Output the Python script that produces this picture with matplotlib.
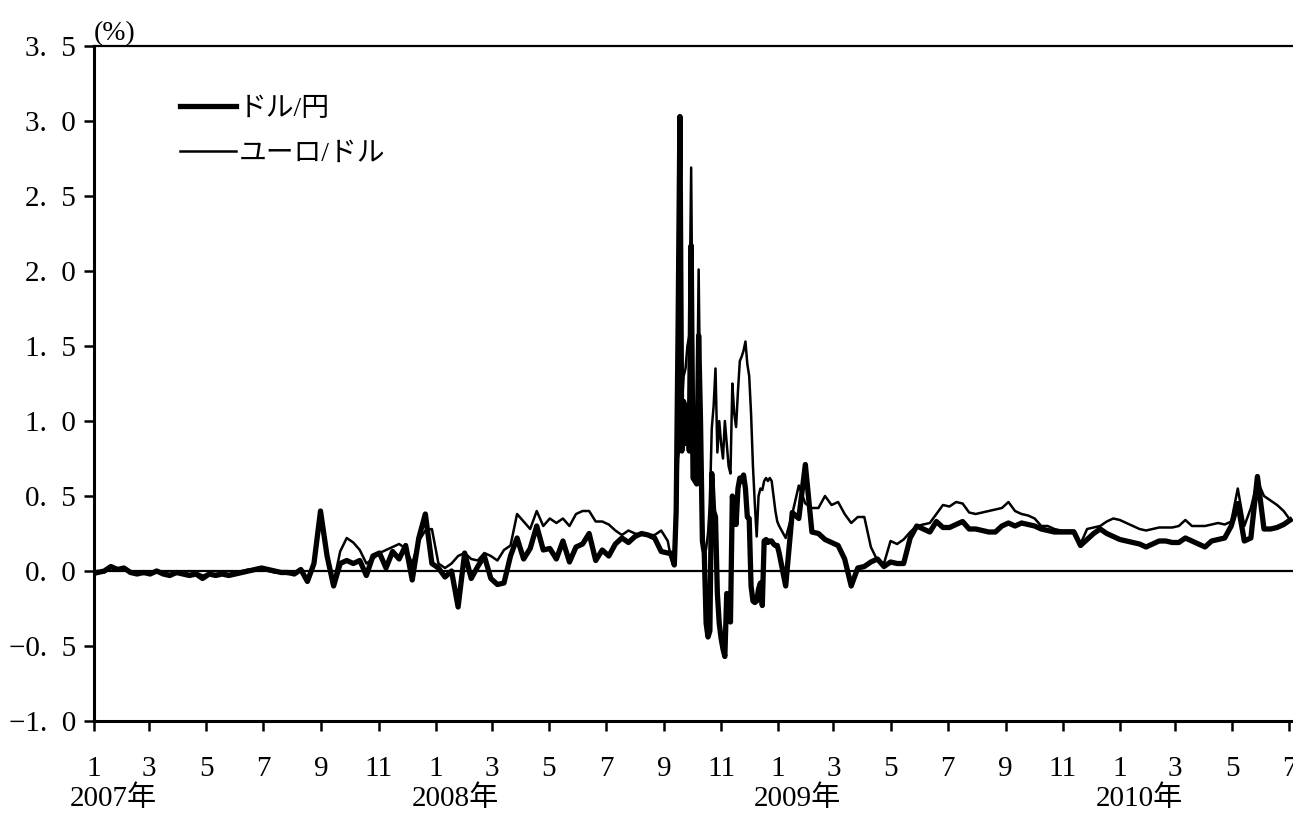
import matplotlib
matplotlib.use('Agg')
import matplotlib.pyplot as plt
import matplotlib.dates as mdates
import matplotlib.ticker as mticker
import pandas as pd

plt.rcParams['font.family'] = ['Liberation Serif', 'Noto Sans CJK JP']

# weekly 2007-01 .. 2008-09
weeks_a = pd.date_range('2007-01-05', '2008-09-05', freq='7D')
usd_jpy_a = [-0.01, 0.00, 0.03, 0.01, 0.02, -0.01, -0.02, -0.01, -0.02, 0.00,
             -0.02, -0.03, -0.01, -0.02, -0.03, -0.02, -0.05, -0.02, -0.03, -0.02,
             -0.03, -0.02, -0.01, 0.00, 0.01, 0.02, 0.01, 0.00, -0.01, -0.01,
             -0.02, 0.01, -0.07, 0.05, 0.40, 0.10, -0.10, 0.05, 0.07, 0.05,
             0.07, -0.03, 0.10, 0.12, 0.02, 0.13, 0.08, 0.17, -0.06, 0.22,
             0.38, 0.05, 0.02, -0.04, 0.00, -0.24, 0.12, -0.05, 0.03, 0.10,
             -0.05, -0.09, -0.08, 0.10, 0.22, 0.08, 0.15, 0.30, 0.14, 0.15,
             0.08, 0.20, 0.06, 0.16, 0.18, 0.25, 0.07, 0.14, 0.10, 0.18,
             0.22, 0.19, 0.23, 0.25, 0.24, 0.22, 0.13, 0.12]
eur_usd_a = [0.00, -0.01, 0.02, 0.02, 0.01, 0.00, -0.01, -0.02, -0.01, -0.01,
             -0.01, -0.02, -0.02, -0.01, -0.02, -0.01, -0.03, -0.02, -0.02, -0.01,
             -0.02, -0.01, 0.00, 0.01, 0.01, 0.01, 0.00, -0.01, -0.01, -0.02,
             -0.01, 0.00, -0.05, 0.05, 0.38, 0.12, -0.08, 0.13, 0.22, 0.19,
             0.14, 0.05, 0.08, 0.12, 0.14, 0.16, 0.18, 0.15, 0.05, 0.20,
             0.27, 0.28, 0.05, 0.02, 0.05, 0.10, 0.12, 0.08, 0.07, 0.12,
             0.10, 0.07, 0.14, 0.17, 0.38, 0.33, 0.28, 0.40, 0.30, 0.35,
             0.32, 0.35, 0.30, 0.38, 0.40, 0.40, 0.33, 0.33, 0.31, 0.27,
             0.24, 0.27, 0.25, 0.24, 0.24, 0.24, 0.27, 0.20]

# every 2 days, 2008-09 .. 2008-12
days_b = pd.date_range('2008-09-08', '2008-12-31', freq='2D')
usd_jpy_b = [0.12, 0.08, 0.04, 0.40, 1.60, 3.03, 0.80, 1.13, 0.85, 1.10,
             0.80, 2.17, 0.62, 0.60, 0.58, 1.57, 1.00, 0.20, 0.12, -0.35,
             -0.44, -0.40, 0.65, 0.40, 0.36, -0.15, -0.35, -0.45, -0.52, -0.57,
             -0.15, -0.16, -0.34, 0.50, 0.40, 0.31, 0.55, 0.62, 0.60, 0.64,
             0.55, 0.36, 0.35, -0.10, -0.20, -0.21, -0.20, -0.12, -0.08, -0.23,
             0.20, 0.21, 0.19, 0.20, 0.20, 0.18, 0.17, 0.17]
eur_usd_b = [0.10, 0.07, 0.05, 0.30, 0.75, 0.85, 1.10, 1.30, 1.35, 1.50,
             1.57, 2.69, 1.10, 0.90, 0.85, 2.01, 0.90, 0.35, 0.10, 0.15,
             0.25, 0.45, 0.95, 1.10, 1.35, 0.79, 1.00, 0.85, 0.75, 1.00,
             0.85, 0.70, 0.65, 1.25, 1.05, 0.96, 1.20, 1.40, 1.43, 1.47,
             1.53, 1.38, 1.30, 1.05, 0.70, 0.45, 0.23, 0.50, 0.55, 0.54,
             0.60, 0.62, 0.60, 0.62, 0.60, 0.50, 0.40, 0.33]

# weekly 2009-01 .. 2010-07
weeks_c = pd.date_range('2009-01-02', '2010-07-02', freq='7D')
usd_jpy_c = [0.12, -0.10, 0.39, 0.35, 0.71, 0.26, 0.25, 0.21, 0.19, 0.17,
             0.08, -0.10, 0.02, 0.03, 0.06, 0.08, 0.03, 0.06, 0.05, 0.05,
             0.22, 0.30, 0.28, 0.26, 0.33, 0.29, 0.29, 0.31, 0.33, 0.28,
             0.28, 0.27, 0.26, 0.26, 0.30, 0.32, 0.30, 0.32, 0.31, 0.30,
             0.28, 0.27, 0.26, 0.26, 0.26, 0.26, 0.17, 0.21, 0.25, 0.28,
             0.25, 0.23, 0.21, 0.20, 0.19, 0.18, 0.16, 0.18, 0.20, 0.20,
             0.19, 0.19, 0.22, 0.20, 0.18, 0.16, 0.20, 0.21, 0.22, 0.30,
             0.45, 0.20, 0.22, 0.63, 0.28, 0.28, 0.29, 0.31, 0.34]
eur_usd_c = [0.30, 0.22, 0.38, 0.57, 0.45, 0.42, 0.42, 0.50, 0.44, 0.46,
             0.38, 0.32, 0.36, 0.36, 0.16, 0.07, 0.05, 0.20, 0.18, 0.21,
             0.26, 0.30, 0.31, 0.32, 0.38, 0.44, 0.43, 0.46, 0.45, 0.39,
             0.38, 0.39, 0.40, 0.41, 0.42, 0.46, 0.40, 0.38, 0.37, 0.35,
             0.30, 0.30, 0.28, 0.27, 0.27, 0.27, 0.18, 0.28, 0.29, 0.30,
             0.33, 0.35, 0.34, 0.32, 0.30, 0.28, 0.27, 0.28, 0.29, 0.29,
             0.29, 0.30, 0.34, 0.30, 0.30, 0.30, 0.31, 0.32, 0.31, 0.33,
             0.55, 0.30, 0.42, 0.60, 0.50, 0.47, 0.44, 0.40, 0.34]

series_names = ['ドル/円', 'ユーロ/ドル']
year_labels = ['2007年', '2008年', '2009年', '2010年']
y_ticks = [-1.0, -0.5, 0.0, 0.5, 1.0, 1.5, 2.0, 2.5, 3.0, 3.5]

dates = list(weeks_a) + list(days_b) + list(weeks_c)
usd_jpy = usd_jpy_a + usd_jpy_b + usd_jpy_c
eur_usd = eur_usd_a + eur_usd_b + eur_usd_c

fig = plt.figure(figsize=(12.93, 8.14), dpi=100)
ax = fig.add_axes([94 / 1293, 1 - 721 / 814, 1199 / 1293, 675 / 814])

ax.plot(dates, usd_jpy, color='black', lw=3.8, label=series_names[0])
ax.plot(dates, eur_usd, color='black', lw=1.8, label=series_names[1])
ax.axhline(0, color='black', lw=1.6)

ax.set_ylim(-1.0, 3.5)
ax.set_xlim(pd.Timestamp('2007-01-01'), pd.Timestamp('2010-07-05'))
ax.set_yticks(y_ticks)
ax.yaxis.set_major_formatter(mticker.FuncFormatter(
    lambda v, p: f'{v:.1f}'.replace('.', '.  ').replace('-', '−')))
ax.xaxis.set_major_locator(mdates.MonthLocator(bymonth=[1, 3, 5, 7, 9, 11]))
ax.xaxis.set_major_formatter(mticker.FuncFormatter(
    lambda v, p: str(mdates.num2date(v).month)))

ax.spines['right'].set_visible(False)
for s in ['left', 'bottom']:
    ax.spines[s].set_linewidth(2.2)
ax.spines['top'].set_linewidth(1.6)
ax.tick_params(axis='y', direction='out', length=7, width=1.8, pad=6, labelsize=21)
ax.tick_params(axis='x', direction='out', length=7, width=1.8, pad=18, labelsize=21)

for i, lbl in enumerate(year_labels):
    ax.annotate(lbl, xy=(pd.Timestamp(f'{2007 + i}-01-22'), 0),
                xycoords=('data', 'axes fraction'), xytext=(0, -56),
                textcoords='offset points', ha='center', va='center', fontsize=21)

ax.text(0.0, 1.0, '(%)', transform=ax.transAxes, ha='left', va='bottom', fontsize=20)

ax.legend(loc='upper left', bbox_to_anchor=(0.072, 0.925), frameon=False,
          fontsize=20, handlelength=2.0, handletextpad=0.1, labelspacing=0.7,
          borderpad=0, borderaxespad=0)

fig.savefig('out.png', dpi=100)
